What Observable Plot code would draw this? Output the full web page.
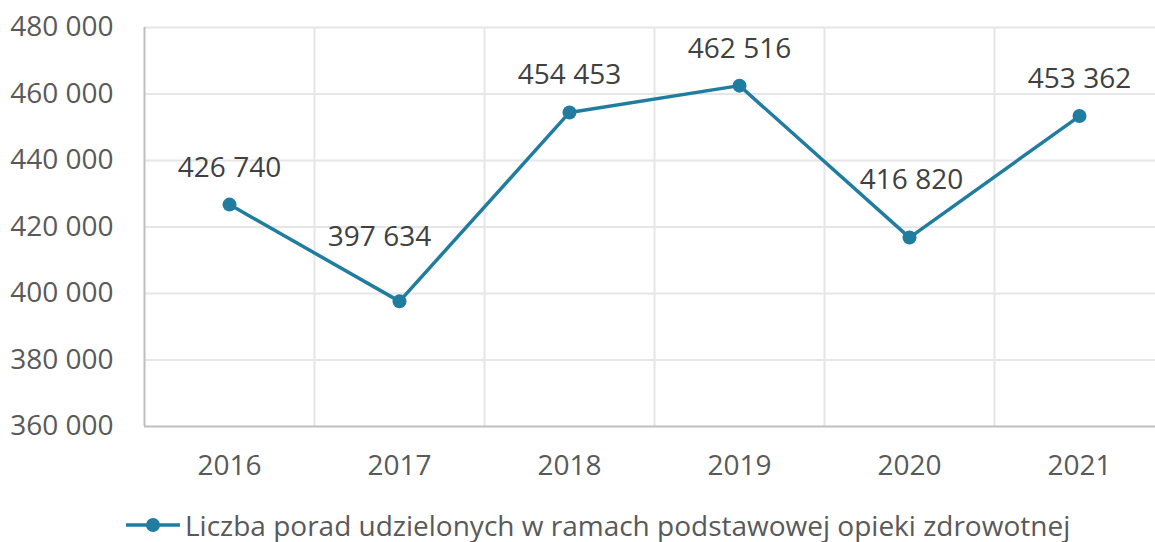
<!DOCTYPE html>
<html>
<head>
<meta charset="utf-8">
<script src="https://cdn.jsdelivr.net/npm/d3@7"></script>
<script src="https://cdn.jsdelivr.net/npm/@observablehq/plot@0.6"></script>
<style>
  html, body { margin: 0; padding: 0; background: #fff; }
  body { width: 1155px; height: 542px; overflow: hidden; font-family: "Open Sans", sans-serif; }
  #legend { position: relative; height: 42px; }
  #legend .item { position: absolute; left: 124px; top: 6px; display: flex; align-items: center; font-size: 28px; color: #595959; white-space: nowrap; }
  #legend svg { margin-right: 3px; }
</style>
</head>
<body>
<div id="chart"></div>
<div id="legend"><div class="item"><svg width="58" height="20"><line x1="2" y1="10" x2="56" y2="10" stroke="#217da0" stroke-width="3.5"/><circle cx="29" cy="10" r="7" fill="#217da0"/></svg><span id="legendText"></span></div></div>
<script>
const years = [2016, 2017, 2018, 2019, 2020, 2021];
const values = [426740, 397634, 454453, 462516, 416820, 453362];
const yTicks = [360000, 380000, 400000, 420000, 440000, 460000, 480000];
const seriesName = "Liczba porad udzielonych w ramach podstawowej opieki zdrowotnej";

const data = years.map((year, i) => ({year, value: values[i]}));
const fmt = v => d3.format(",")(v).replace(/,/g, " ");
const color = "#217da0";

const chart = Plot.plot({
  width: 1155,
  height: 500,
  marginTop: 27,
  marginBottom: 74,
  marginLeft: 144,
  marginRight: 0,
  style: {fontFamily: "Open Sans", fontSize: "28px", color: "#595959", background: "#fff"},
  x: {type: "linear", domain: [2015.5, 2021.5], range: [144, 1164], label: null},
  y: {domain: [360000, 480000], label: null},
  marks: [
    Plot.ruleY(yTicks.slice(1), {stroke: "#e6e6e6", strokeWidth: 2}),
    Plot.ruleX(years.slice(0, -1).map(y => y + 0.5), {stroke: "#e6e6e6", strokeWidth: 2}),
    Plot.ruleX([2015.5], {stroke: "#bfbfbf", strokeWidth: 2}),
    Plot.ruleY([360000], {stroke: "#bfbfbf", strokeWidth: 2}),
    Plot.axisY({ticks: yTicks, tickFormat: fmt, tickSize: 0, tickPadding: 31, fontSize: 28, fill: "#595959", label: null}),
    Plot.axisX({ticks: years, tickFormat: d => String(d), tickSize: 0, tickPadding: 29, fontSize: 28, fill: "#595959", label: null}),
    Plot.line(data, {x: "year", y: "value", stroke: color, strokeWidth: 3.5}),
    Plot.dot(data, {x: "year", y: "value", fill: color, r: 7}),
    Plot.text(data.filter(d => d.year !== 2017 && d.year !== 2020), {x: "year", y: "value", text: d => fmt(d.value), dy: -37, fill: "#404040", fontSize: 28}),
    Plot.text(data.filter(d => d.year === 2017), {x: "year", y: "value", text: d => fmt(d.value), dx: -20, dy: -64, fill: "#404040", fontSize: 28}),
    Plot.text(data.filter(d => d.year === 2020), {x: "year", y: "value", text: d => fmt(d.value), dx: 2, dy: -58, fill: "#404040", fontSize: 28})
  ]
});
document.getElementById("chart").appendChild(chart);
document.getElementById("legendText").textContent = seriesName;
</script>
</body>
</html>
